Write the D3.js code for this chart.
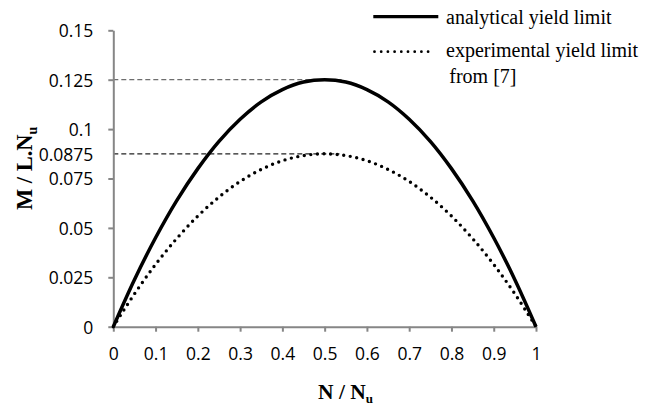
<!DOCTYPE html>
<html>
<head>
<meta charset="utf-8">
<script src="https://cdn.jsdelivr.net/npm/d3@7"></script>
<style>
  body { margin: 0; background: #fff; }
  svg { display: block; }
</style>
</head>
<body>
<div id="chart"></div>
<script>
// N / Nu values along the x axis
const nValues = [0, 0.05, 0.1, 0.15, 0.2, 0.25, 0.3, 0.35, 0.4, 0.45, 0.5,
                 0.55, 0.6, 0.65, 0.7, 0.75, 0.8, 0.85, 0.9, 0.95, 1];
// M / L.Nu
const analytical = [0, 0.0238, 0.045, 0.0638, 0.08, 0.0938, 0.105, 0.1138, 0.12, 0.1238, 0.125,
                    0.1238, 0.12, 0.1138, 0.105, 0.0938, 0.08, 0.0638, 0.045, 0.0238, 0];
const experimental = [0, 0.0166, 0.0315, 0.0446, 0.056, 0.0656, 0.0735, 0.0796, 0.084, 0.0866, 0.0875,
                      0.0866, 0.084, 0.0796, 0.0735, 0.0656, 0.056, 0.0446, 0.0315, 0.0166, 0];

const xTicks = [0, 0.1, 0.2, 0.3, 0.4, 0.5, 0.6, 0.7, 0.8, 0.9, 1];
const yTicks = [0, 0.025, 0.05, 0.075, 0.0875, 0.1, 0.125, 0.15];
// dashed guide lines: level and where they stop on the x axis
const guideLevels = [0.125, 0.0875];
const guideEnd = [0.54, 0.535];
const legendLabels = ["analytical yield limit", "experimental yield limit", "from [7]"];

const width = 654, height = 405;
const axisColor = "#868686";

const svg = d3.select("#chart").append("svg")
    .attr("width", width)
    .attr("height", height);

const x = d3.scaleLinear().domain([0, 1]).range([113.3, 536]);
const y = d3.scaleLinear().domain([0, 0.15]).range([326.7, 30.3]);

// Guide lines at the two peak levels
svg.selectAll(".guide")
    .data(guideLevels)
    .enter()
    .append("line")
    .attr("x1", x(0))
    .attr("x2", (d, i) => x(guideEnd[i]))
    .attr("y1", d => y(d))
    .attr("y2", d => y(d))
    .attr("stroke", (d, i) => i === 0 ? "#6e6e6e" : "#222")
    .attr("stroke-width", 1.2)
    .attr("stroke-dasharray", "5,3");

// Y axis
const yAxis = svg.append("g")
    .attr("transform", `translate(${x(0)},0)`)
    .call(d3.axisLeft(y).tickValues(yTicks).tickSize(5).tickSizeOuter(0)
        .tickPadding(15).tickFormat(d => String(d)));

yAxis.selectAll(".tick")
    .filter(d => d === 0.0875)
    .select("line").remove();

// X axis
const xAxis = svg.append("g")
    .attr("transform", `translate(0,${y(0)})`)
    .call(d3.axisBottom(x).tickValues(xTicks).tickSize(5).tickSizeOuter(0)
        .tickFormat(d => String(d)));

[yAxis, xAxis].forEach(g => {
    g.select(".domain").attr("stroke", axisColor).attr("stroke-width", 2);
    g.selectAll(".tick line").attr("stroke", axisColor).attr("stroke-width", 2);
    g.selectAll(".tick text")
        .attr("fill", "#000")
        .style("font-family", "'Open Sans', sans-serif")
        .style("font-size", "17.5px");
});
yAxis.selectAll(".tick text").attr("dy", "0.36em");
xAxis.selectAll(".tick text").attr("y", 33).attr("dy", null);

// Curves
const line = d3.line()
    .x((d, i) => x(nValues[i]))
    .y(d => y(d))
    .curve(d3.curveCatmullRom);

svg.append("path")
    .datum(analytical)
    .attr("d", line)
    .attr("fill", "none")
    .attr("stroke", "#000")
    .attr("stroke-width", 3.5);

svg.append("path")
    .datum(experimental)
    .attr("d", line)
    .attr("fill", "none")
    .attr("stroke", "#000")
    .attr("stroke-width", 3.4)
    .attr("stroke-linecap", "round")
    .attr("stroke-dasharray", "0 6.6");

// Axis titles
const titleFont = "'Liberation Serif', 'Times New Roman', serif";

const xTitle = svg.append("text")
    .attr("x", 318)
    .attr("y", 399)
    .style("font-family", titleFont)
    .style("font-weight", "bold")
    .style("font-size", "21.5px");
xTitle.append("tspan").text("N / N");
xTitle.append("tspan").attr("dy", 3.5).style("font-size", "13px").text("u");

const yTitle = svg.append("text")
    .attr("transform", "translate(31.5,210) rotate(-90)")
    .style("font-family", titleFont)
    .style("font-weight", "bold")
    .style("font-size", "22.5px");
yTitle.append("tspan").text("M / L.N");
yTitle.append("tspan").attr("dy", 5).style("font-size", "14px").text("u");

// Legend
const legend = svg.append("g");

legend.append("line")
    .attr("x1", 373.3).attr("x2", 438.3)
    .attr("y1", 16.7).attr("y2", 16.7)
    .attr("stroke", "#000")
    .attr("stroke-width", 3.3);

legend.append("line")
    .attr("x1", 374.5).attr("x2", 428.3)
    .attr("y1", 51.7).attr("y2", 51.7)
    .attr("stroke", "#000")
    .attr("stroke-width", 2.8)
    .attr("stroke-linecap", "round")
    .attr("stroke-dasharray", "0 6.7");

const legendPos = [[446, 24], [446, 56.7], [449.3, 83.3]];
legend.selectAll("text")
    .data(legendLabels)
    .enter()
    .append("text")
    .attr("x", (d, i) => legendPos[i][0])
    .attr("y", (d, i) => legendPos[i][1])
    .style("font-family", titleFont)
    .style("font-size", "20px")
    .attr("fill", "#000")
    .text(d => d);
</script>
</body>
</html>
